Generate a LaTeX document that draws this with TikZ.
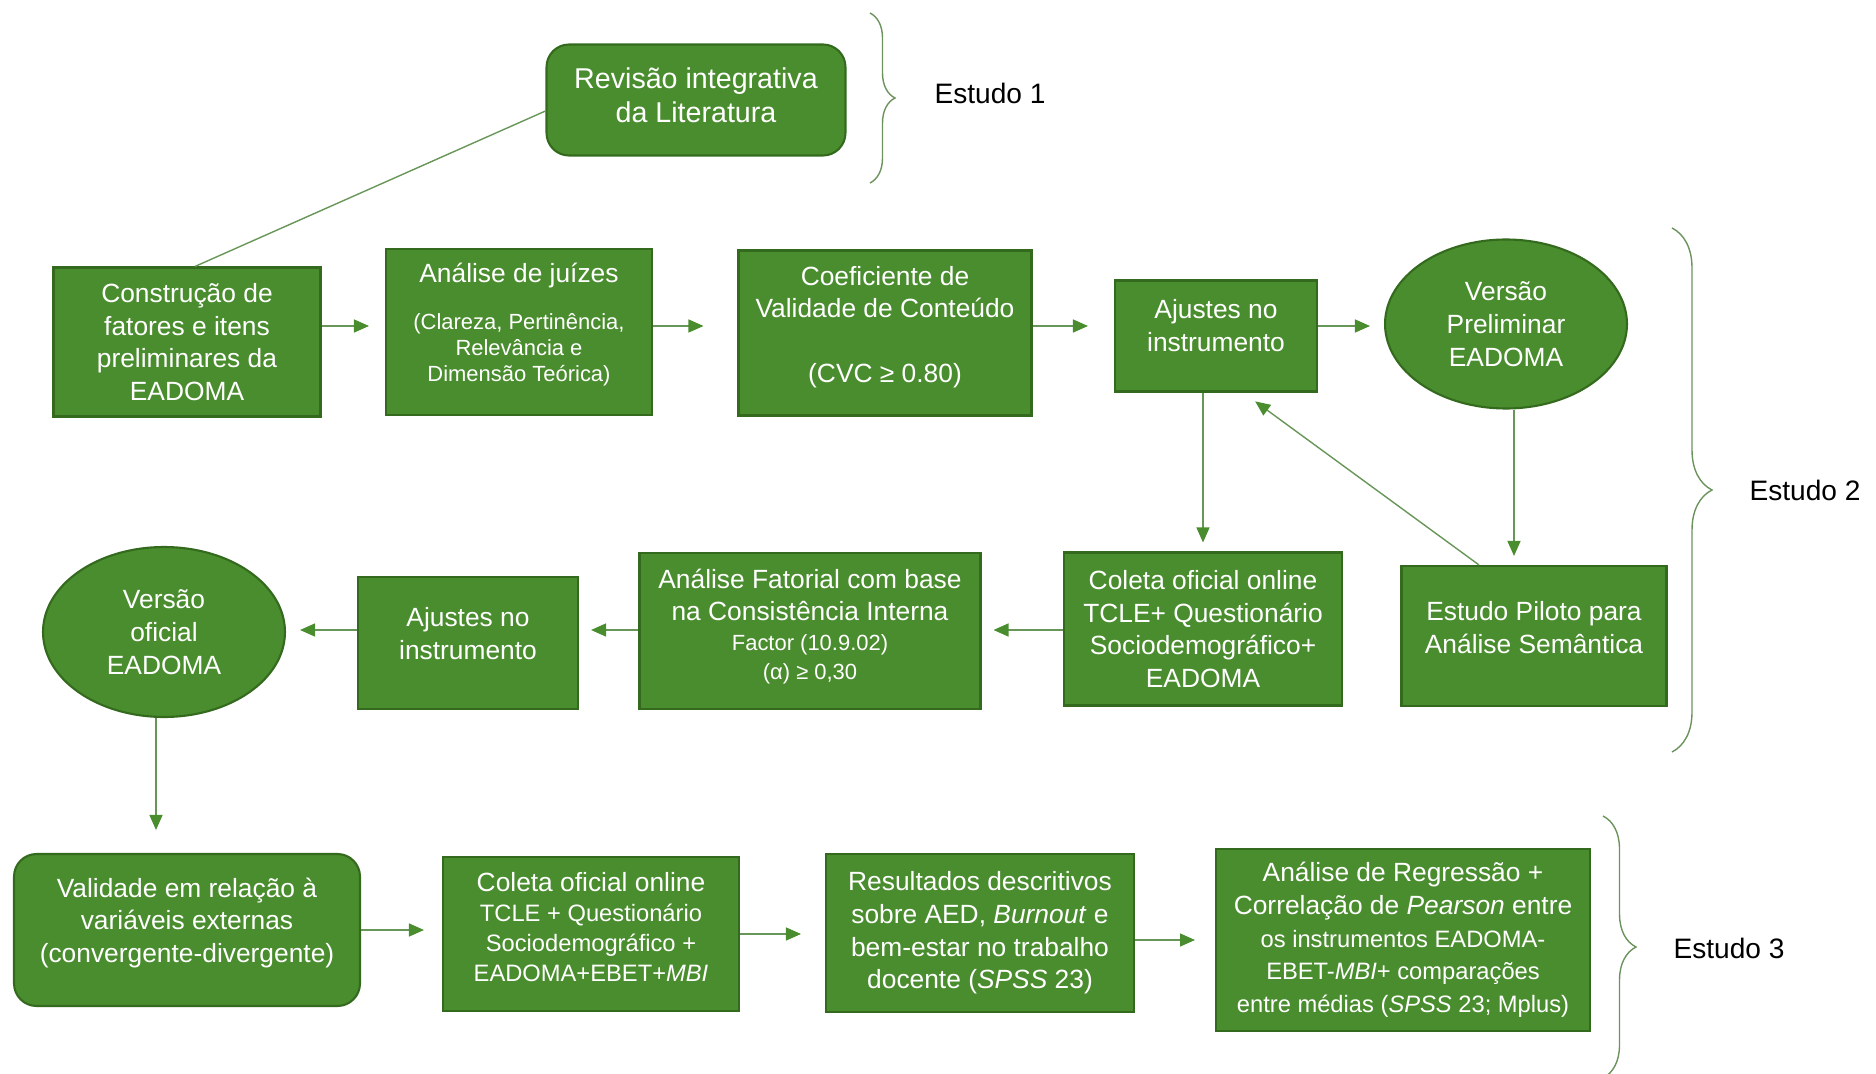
\documentclass[tikz,border=0pt]{standalone}
\usepackage{fontspec}
\setmainfont{Liberation Sans}
\usetikzlibrary{arrows.meta, positioning, shapes.geometric, calc, decorations.pathreplacing}
\definecolor{boxgreen}{RGB}{74,141,46}
\definecolor{edgegreen}{RGB}{52,106,30}
\definecolor{linegreen}{RGB}{104,150,88}
\tikzset{
  box/.style={draw=edgegreen, fill=boxgreen, rectangle, align=center, inner sep=1mm, text=white, line width=1.2pt, font=\fontsize{15}{18.6}\selectfont},
  roundbox/.style={box, rounded corners=0.45cm},
  ovalbox/.style={box, ellipse, inner sep=0pt},
  lift/.style={text depth=#1},
  arrow/.style={-{Triangle[length=3mm, width=2.6mm, color=boxgreen]}, line width=0.8pt, draw=linegreen, shorten >=0.3cm},
  link/.style={line width=0.8pt, draw=linegreen},
  studybrace/.style={decorate, decoration={brace, amplitude=#1}, draw=linegreen!85!gray, line width=0.8pt},
  studybrace/.default=0.5cm,
  study/.style={font=\fontsize{16}{19}\selectfont, text=black}
}
\newcommand{\smalltxt}{\fontsize{12.5}{15}\selectfont}
\newcommand{\midtxt}{\fontsize{13.5}{17}\selectfont}

\begin{document}
\begin{tikzpicture}[x=0.02cm, y=-0.02cm]
\useasboundingbox (0,0) rectangle (1876,1074);

\node[roundbox, minimum width=5.98cm, minimum height=2.22cm, lift=5.5pt, font=\fontsize{16.3}{19.6}\selectfont] (rev) at (696,100) {Revisão integrativa\\da Literatura};
\node[study] (e1) at (990,93) {Estudo 1};

\node[box, minimum width=5.34cm, minimum height=2.98cm] (cons) at (187,342) {Construção de\\fatores e itens\\preliminares da\\EADOMA};
\node[box, minimum width=5.32cm, minimum height=3.32cm, lift=10.8pt] (juiz) at (519,332) {Análise de juízes\\[8pt]\smalltxt (Clareza, Pertinência,\\[-3.6pt]\smalltxt Relevância e\\[-3.6pt]\smalltxt Dimensão Teórica)};
\node[box, minimum width=5.86cm, minimum height=3.30cm, lift=10pt] (coef) at (885,333) {Coeficiente de\\Validade de Conteúdo\\[18pt](CVC ≥ 0.80)};
\node[box, minimum width=4.04cm, minimum height=2.22cm, lift=12.3pt] (aj1) at (1216,336) {Ajustes no\\instrumento};
\node[ovalbox, minimum width=4.84cm, minimum height=3.38cm] (vp) at (1506,324) {Versão\\Preliminar\\EADOMA};

\node[box, minimum width=5.30cm, minimum height=2.80cm, lift=9.6pt] (pil) at (1534,636) {Estudo Piloto para\\Análise Semântica};
\node[box, minimum width=5.56cm, minimum height=3.06cm] (col1) at (1203,629) {Coleta oficial online\\TCLE+ Questionário\\Sociodemográfico+\\EADOMA};
\node[box, minimum width=6.82cm, minimum height=3.12cm, lift=8pt] (fat) at (810,631) {Análise Fatorial com base\\na Consistência Interna\\[-1.6pt]\smalltxt Factor (10.9.02)\\[-2.4pt]\smalltxt (α) ≥ 0,30};
\node[box, minimum width=4.40cm, minimum height=2.64cm, lift=11pt] (aj2) at (468,643) {Ajustes no\\instrumento};
\node[ovalbox, minimum width=4.84cm, minimum height=3.40cm] (vo) at (164,632) {Versão\\oficial\\EADOMA};
\node[study] (e2) at (1805,490) {Estudo 2};

\node[roundbox, minimum width=6.92cm, minimum height=3.04cm, lift=11.4pt] (val) at (187,930) {Validade em relação à\\variáveis externas\\(convergente-divergente)};
\node[box, minimum width=5.92cm, minimum height=3.08cm, lift=8.2pt, font=\midtxt] (col2) at (591,934) {\fontsize{15}{17}\selectfont Coleta oficial online\\\midtxt TCLE + Questionário\\\midtxt Sociodemográfico +\\\midtxt EADOMA+EBET+\textit{MBI}};
\node[box, minimum width=6.16cm, minimum height=3.16cm] (res) at (980,933) {Resultados descritivos\\sobre AED, \textit{Burnout} e\\bem-estar no trabalho\\docente (\textit{SPSS} 23)};
\node[box, minimum width=7.48cm, minimum height=3.64cm] (reg) at (1403,940) {Análise de Regressão +\\Correlação de \textit{Pearson} entre\\\midtxt os instrumentos EADOMA-\\\midtxt EBET-\textit{MBI}+ comparações\\\midtxt entre médias (\textit{SPSS} 23; Mplus)};
\node[study] (e3) at (1729,948) {Estudo 3};

\draw[studybrace] (870,13) -- (870,183);
\draw[studybrace=0.8cm] (1672,228) -- (1672,752);
\draw[studybrace=0.66cm] (1603,816) -- (1603,1078);

\draw[link] ([yshift=-0.22cm]rev.west) -- ([xshift=0.16cm]cons.north);

\coordinate (r1) at (0,326);
\draw[arrow, shorten >=0.32cm] (cons.east |- r1) -- (juiz.west |- r1);
\draw[arrow, shorten >=0.68cm] (juiz.east |- r1) -- (coef.west |- r1);
\draw[arrow, shorten >=0.52cm] (coef.east |- r1) -- (aj1.west |- r1);
\draw[arrow, shorten >=0.28cm] (aj1.east |- r1) -- (vp.west |- r1);

\draw[arrow, shorten >=0.18cm] (aj1.south -| col1) -- (col1.north);
\draw[arrow, shorten >=0.18cm] ([xshift=0.16cm]vp.south) -- ([xshift=0.16cm]vp.south |- pil.north);
\draw[arrow] ([xshift=-1.1cm]pil.north) -- ([xshift=-1.5cm]aj1.south east);

\coordinate (r2) at (0,630);
\draw[arrow, shorten >=0.24cm] (col1.west |- r2) -- (fat.east |- r2);
\draw[arrow, shorten >=0.24cm] (fat.west |- r2) -- (aj2.east |- r2);
\draw[arrow, shorten >=0.28cm] (aj2.west |- r2) -- (vo.east |- r2);
\draw[arrow, shorten >=0.46cm] ([xshift=-0.16cm]vo.south) -- ([xshift=-0.16cm]vo.south |- val.north);

\draw[arrow, shorten >=0.36cm] (val.east) -- (col2.west |- val.east);
\draw[arrow, shorten >=0.48cm] (col2.east) -- (res.west |- col2.east);
\draw[arrow, shorten >=0.4cm] (res.east |- reg) -- (reg.west);

\end{tikzpicture}
\end{document}
